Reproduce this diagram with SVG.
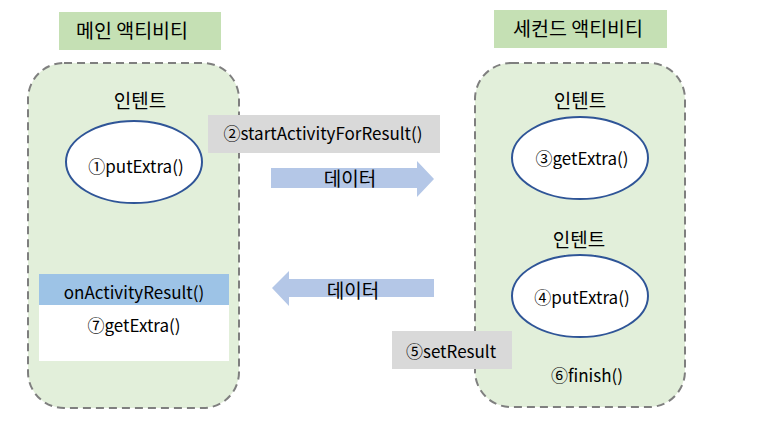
<svg xmlns="http://www.w3.org/2000/svg" width="780" height="448" viewBox="0 0 780 448">
<style>
text{font-family:"Noto Sans CJK KR","Noto Sans",sans-serif;fill:#000;}
.t{font-size:19.5px;}
.l{font-size:17px;}
.ko{font-size:19px;}
.title{fill:#c5e0b4;}
.cont{fill:#e2efda;stroke:#7f7f7f;stroke-width:2;stroke-dasharray:8 5;}
.ell{fill:#fff;stroke:#2f5597;stroke-width:2;}
.gray{fill:#d9d9d9;}
.arr{fill:#b4c7e7;}
</style>
<rect width="780" height="448" fill="#fff"/>
<g id="main-activity">
<rect class="title" x="59" y="12" width="162" height="38"/>
<text class="t" x="132" y="38" text-anchor="middle">메인 액티비티</text>
<rect class="cont" x="28" y="63" width="211" height="345" rx="36"/>
<text class="ko" x="140" y="108" text-anchor="middle">인텐트</text>
</g>
<g id="intent1">
<ellipse class="ell" cx="134" cy="162" rx="68" ry="41"/>
<text class="l" x="136" y="173" text-anchor="middle">①putExtra()</text>
</g>
<g id="onActivityResult">
<rect x="39" y="274" width="190" height="87" fill="#fff"/>
<rect x="39" y="274" width="190" height="31" fill="#9dc3e6"/>
<text class="l" x="134" y="299" text-anchor="middle">onActivityResult()</text>
<text class="l" x="134" y="332" text-anchor="middle">⑦getExtra()</text>
</g>
<g id="second-activity">
<rect class="title" x="494" y="10" width="173" height="38"/>
<text class="t" x="578" y="36" text-anchor="middle">세컨드 액티비티</text>
<rect class="cont" x="475" y="63" width="210" height="344" rx="36"/>
<text class="ko" x="580" y="108" text-anchor="middle">인텐트</text>
<text class="ko" x="579" y="247" text-anchor="middle">인텐트</text>
<text class="l" x="587" y="382" text-anchor="middle">⑥finish()</text>
</g>
<g id="intent2">
<ellipse class="ell" cx="580" cy="158" rx="68" ry="41"/>
<text class="l" x="582" y="165" text-anchor="middle">③getExtra()</text>
</g>
<g id="intent3">
<ellipse class="ell" cx="580" cy="296" rx="68" ry="41"/>
<text class="l" x="582" y="304" text-anchor="middle">④putExtra()</text>
</g>
<g id="connectors">
<rect class="gray" x="208" y="115" width="232" height="38"/>
<text class="l" x="323" y="140" text-anchor="middle">②startActivityForResult()</text>
<polygon class="arr" points="271,168 417,168 417,161 434,179 417,197 417,188 271,188"/>
<text class="ko" x="350" y="186" text-anchor="middle">데이터</text>
<polygon class="arr" points="434,279 289,279 289,271 272,288 289,306 289,297 434,297"/>
<text class="ko" x="353" y="298" text-anchor="middle">데이터</text>
<rect class="gray" x="392" y="331" width="120" height="38"/>
<text class="l" x="451" y="358" text-anchor="middle">⑤setResult</text>
</g>
</svg>
